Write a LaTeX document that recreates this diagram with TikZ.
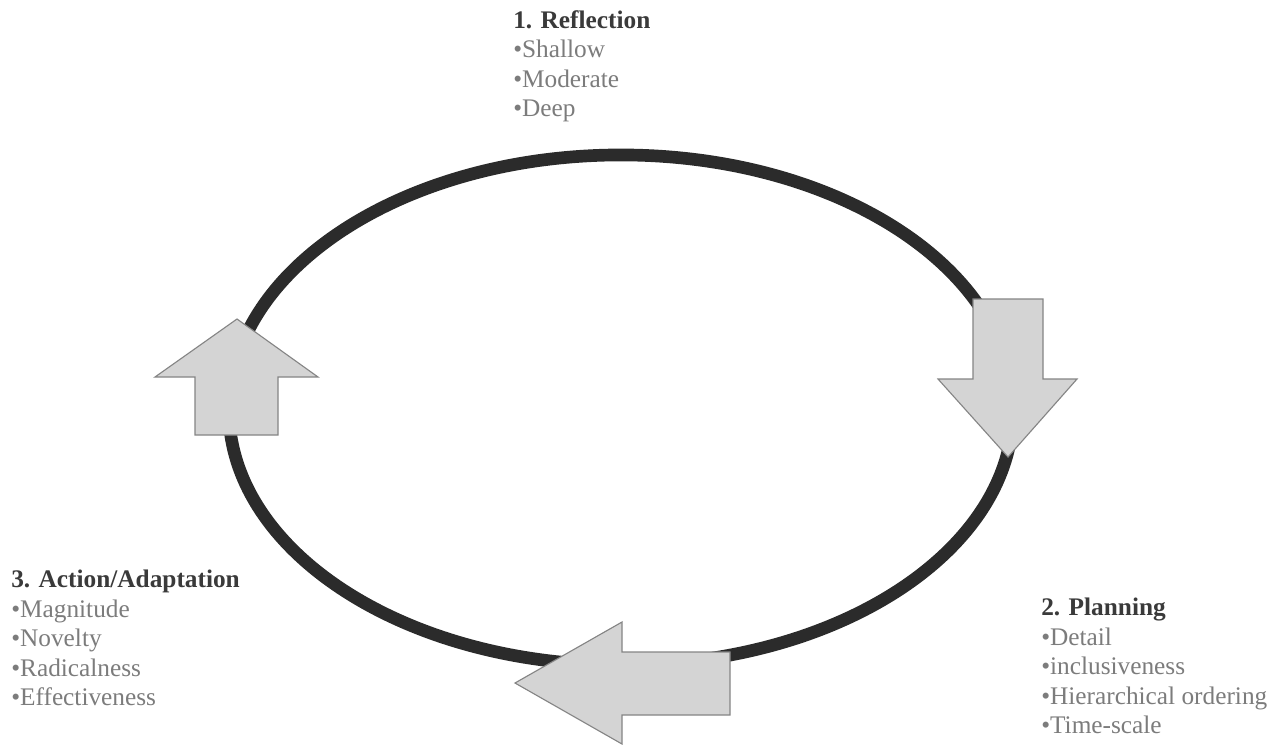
\documentclass[tikz,border=0pt]{standalone}
\usepackage{fontspec}
\setmainfont{Liberation Serif}
\usetikzlibrary{positioning}
\definecolor{ringdark}{HTML}{2B2B2B}
\definecolor{arrowfill}{HTML}{D4D4D4}
\definecolor{arrowedge}{HTML}{858585}
\definecolor{headtext}{HTML}{3A3A3A}
\definecolor{itemtext}{HTML}{7C7C7C}
\tikzset{
  cyclering/.style={draw=ringdark, line width=9pt},
  blockarrow/.style={fill=arrowfill, draw=arrowedge, line width=0.8pt,
    line join=miter},
  stagetext/.style={anchor=north west, align=left, inner sep=0pt,
    text=itemtext, font=\fontsize{18}{21}\selectfont},
}
\newcommand{\stagehead}[1]{\textcolor{headtext}{\textbf{#1}}}

\begin{document}
\begin{tikzpicture}[x=0.025cm, y=-0.025cm]
  \useasboundingbox[fill=white] (0,0) rectangle (1286,745);
  % the cycle
  \draw[cyclering] (621,410) ellipse [x radius=9.8cm, y radius=6.375cm];
  % block arrows on the ring
  \draw[blockarrow] (1008,457) -- (1077,379) -- (1043,379) -- (1043,299)
    -- (973,299) -- (973,379) -- (938,379) -- cycle;
  \draw[blockarrow] (515,683) -- (622,622) -- (622,652) -- (730,652)
    -- (730,715) -- (622,715) -- (622,744) -- cycle;
  \draw[blockarrow] (237,319) -- (318,377) -- (278,377) -- (278,435)
    -- (195,435) -- (195,377) -- (155,377) -- cycle;
  % stage labels
  \node[stagetext] (reflection) at (513,10) {\stagehead{1. Reflection}\\
    •Shallow\\ •Moderate\\ •Deep};
  \node[stagetext] (planning) at (1041,598) {\stagehead{2. Planning}\\
    •Detail\\ •inclusiveness\\ •Hierarchical ordering\\ •Time-scale};
  \node[stagetext] (action) at (11,570) {\stagehead{3. Action/Adaptation}\\
    •Magnitude\\ •Novelty\\ •Radicalness\\ •Effectiveness};
\end{tikzpicture}
\end{document}
